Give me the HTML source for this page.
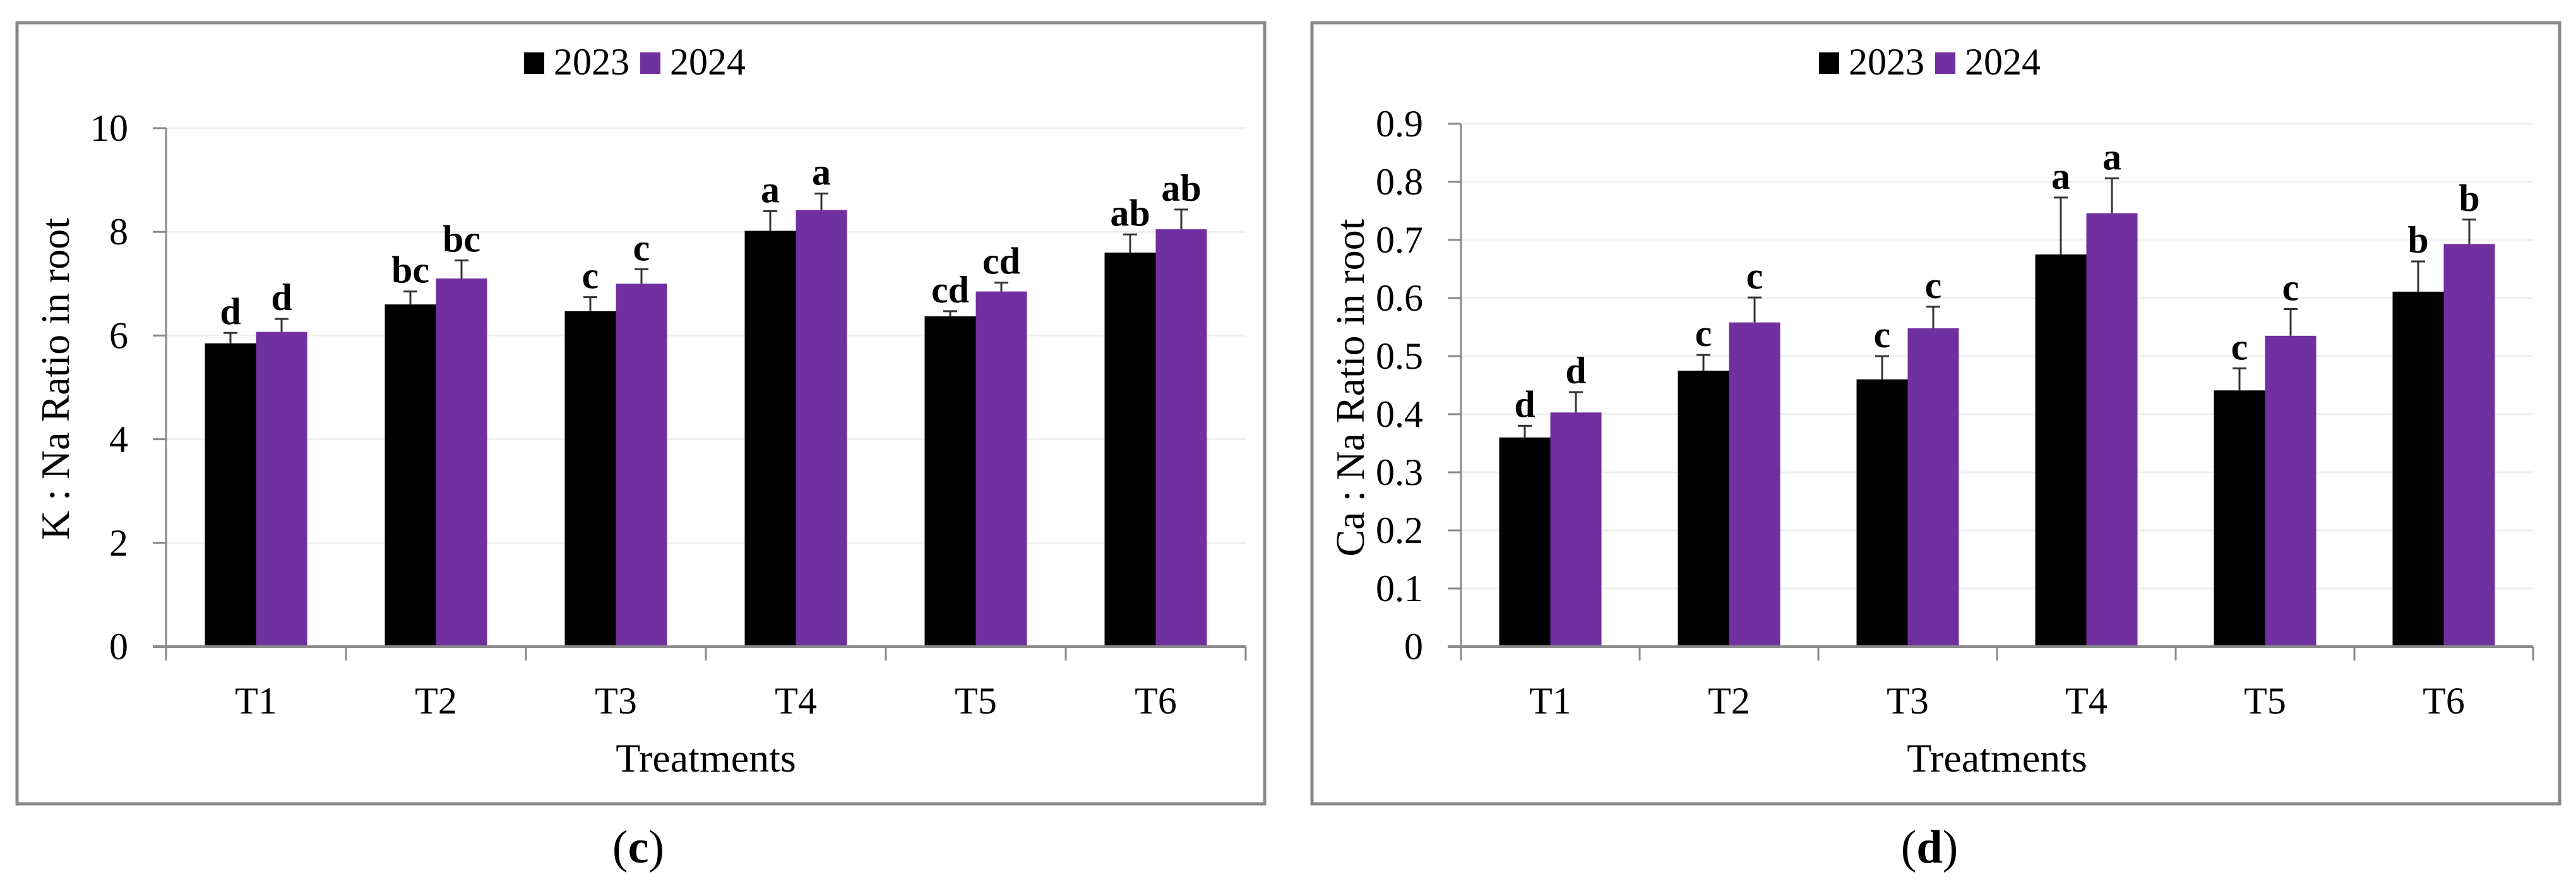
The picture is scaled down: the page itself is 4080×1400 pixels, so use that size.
<!DOCTYPE html>
<html><head><meta charset="utf-8">
<style>
html,body{margin:0;padding:0;background:#fff;}
svg{display:block;font-family:"Liberation Serif","DejaVu Serif",serif;}
</style></head>
<body>
<svg id="fig" width="4080" height="1400" viewBox="0 0 4080 1400" xmlns="http://www.w3.org/2000/svg"></svg>
<script>
const categories = ["T1","T2","T3","T4","T5","T6"];
const kna2023 = [5.85, 6.60, 6.47, 8.02, 6.37, 7.60];
const kna2024 = [6.07, 7.10, 7.00, 8.42, 6.85, 8.05];
const knaErr2023 = [0.20, 0.25, 0.27, 0.38, 0.10, 0.35];
const knaErr2024 = [0.25, 0.35, 0.28, 0.32, 0.17, 0.38];
const knaLetters2023 = ["d","bc","c","a","cd","ab"];
const knaLetters2024 = ["d","bc","c","a","cd","ab"];
const knaTicks = [0, 2, 4, 6, 8, 10];

const cana2023 = [0.360, 0.475, 0.460, 0.675, 0.441, 0.611];
const cana2024 = [0.403, 0.558, 0.548, 0.746, 0.535, 0.693];
const canaErr2023 = [0.020, 0.027, 0.040, 0.098, 0.038, 0.052];
const canaErr2024 = [0.035, 0.043, 0.037, 0.060, 0.046, 0.042];
const canaLetters2023 = ["d","c","c","a","c","b"];
const canaLetters2024 = ["d","c","c","a","c","b"];
const canaTicks = [0, 0.1, 0.2, 0.3, 0.4, 0.5, 0.6, 0.7, 0.8, 0.9];

const NS = "http://www.w3.org/2000/svg";
const svg = document.getElementById("fig");
function mk(tag, attrs, parent, text){
  const e = document.createElementNS(NS, tag);
  for (const k in attrs) e.setAttribute(k, attrs[k]);
  if (text !== undefined) e.textContent = text;
  (parent || svg).appendChild(e);
  return e;
}

function drawPanel(cfg){
  const g = mk("g", {});
  
  
  const ox = cfg.ox;
  const border = mk("rect", {x: ox, y: 36, width: 1976, height: 1237, fill: "none", stroke: "#898989", "stroke-width": 5}, g);
  
  
  const x0 = ox + 236, x1 = ox + 236 + 6*cfg.cw;
  const yBase = 1024, yTop = cfg.yTop;
  const yS = v => yBase - (v - 0) / cfg.max * (yBase - yTop);
  const xC = i => x0 + cfg.cw * (i + 0.5);
  cfg.ticks.forEach(t => {
    const y = yS(t);
    if (t !== 0) {
      const gl = mk("line", {x1: x0, x2: x1, y1: y, y2: y, stroke: "#efefef", "stroke-width": 3}, g);
      
      
    }
    const tk = mk("line", {x1: x0 - 21, x2: x0, y1: y, y2: y, stroke: "#898989", "stroke-width": 3}, g);
    
    
    const lb = mk("text", {x: x0 - 60, y: y + 20, "text-anchor": "end", "font-size": 60, fill: "#000"}, g, cfg.fmt(t));
    
    
  });
  const ya = mk("line", {x1: x0, x2: x0, y1: yTop, y2: yBase + 22, stroke: "#898989", "stroke-width": 3}, g);
  
  
  const bw = 81;
  categories.forEach((c, i) => {
    const xb = xC(i);
    const b1 = mk("rect", {x: xb - bw, y: yS(cfg.s1[i]), width: bw, height: yBase - yS(cfg.s1[i]), fill: "#000"}, g);
    
    
    const b2 = mk("rect", {x: xb, y: yS(cfg.s2[i]), width: bw, height: yBase - yS(cfg.s2[i]), fill: "#7030a0"}, g);
    
    
    [[xb - bw/2, cfg.s1[i], cfg.e1[i], cfg.l1[i], '2023'], [xb + bw/2, cfg.s2[i], cfg.e2[i], cfg.l2[i], '2024']].forEach(([cx, v, e, l, yr]) => {
      const top = yS(v + e);
      const eb = mk("path", {d: `M${cx} ${yS(v)}V${top}M${cx-11} ${top}H${cx+11}`, stroke: "#333", "stroke-width": 3, fill: "none"}, g);
      
      
      const lt = mk("text", {x: cx, y: top - 14, "text-anchor": "middle", "font-size": 60, "font-weight": "bold", fill: "#000"}, g, l);
      
      
    });
    const xl = mk("text", {x: xb, y: 1130, "text-anchor": "middle", "font-size": 60, fill: "#000"}, g, c);
    
    
  });
  for (let i = 0; i <= 6; i++) {
    const x = x0 + i * cfg.cw;
    const xt = mk("line", {x1: x, x2: x, y1: yBase, y2: yBase + 22, stroke: "#898989", "stroke-width": 3}, g);
    
    
  }
  const xa = mk("line", {x1: x0 - 21, x2: x1, y1: yBase, y2: yBase, stroke: "#898989", "stroke-width": 4}, g);
  
  
  const xt = mk("text", {x: (x0 + x1) / 2, y: 1222, "text-anchor": "middle", "font-size": 64, fill: "#000"}, g, "Treatments");
  
  
  const ty = cfg.titleY;
  const yt = mk("text", {x: 0, y: 0, "text-anchor": "middle", "font-size": 64, fill: "#000", transform: `translate(${ox + 82},${ty}) rotate(-90)`}, g, cfg.ytitle);
  
  
  const lg = mk("g", {}, g);
  
  
  const lx = ox + 803;
  const s1 = mk("rect", {x: lx, y: 83, width: 32, height: 34, fill: "#000"}, lg);
  
  
  const t1 = mk("text", {x: lx + 47, y: 118, "font-size": 60, fill: "#000"}, lg, "2023");
  
  
  const s2 = mk("rect", {x: lx + 184, y: 83, width: 32, height: 34, fill: "#7030a0"}, lg);
  
  
  const t2 = mk("text", {x: lx + 231, y: 118, "font-size": 60, fill: "#000"}, lg, "2024");
  
  
  const cap = mk("text", {x: (x0 + x1) / 2 - 107, y: 1366, "text-anchor": "middle", "font-size": 74, fill: "#000"}, g);
  
  
  mk("tspan", {}, cap, "(");
  mk("tspan", {"font-weight": "bold"}, cap, cfg.cap);
  mk("tspan", {}, cap, ")");
}

drawPanel({name: "chart-k-na-ratio", ox: 27, cw: 285, yTop: 203, max: 10, ticks: knaTicks,
  fmt: t => String(t), s1: kna2023, s2: kna2024, e1: knaErr2023, e2: knaErr2024,
  l1: knaLetters2023, l2: knaLetters2024, ytitle: "K : Na Ratio in root", titleY: 600, cap: "c"});
drawPanel({name: "chart-ca-na-ratio", ox: 2078, cw: 283, yTop: 196, max: 0.9, ticks: canaTicks,
  fmt: t => t === 0 ? "0" : t.toFixed(1), s1: cana2023, s2: cana2024, e1: canaErr2023, e2: canaErr2024,
  l1: canaLetters2023, l2: canaLetters2024, ytitle: "Ca : Na Ratio in root", titleY: 614, cap: "d"});
</script>
</body></html>
